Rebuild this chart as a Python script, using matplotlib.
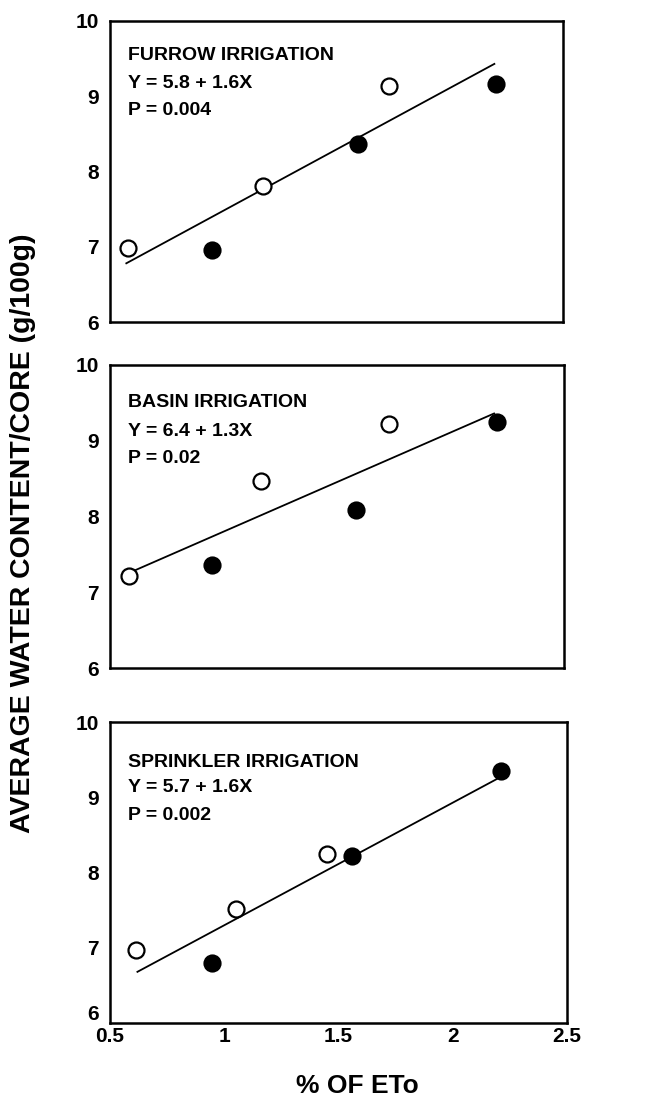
import matplotlib
matplotlib.use("Agg")
import matplotlib.pyplot as plt

plt.rcParams['font.family'] = ['Liberation Sans', 'DejaVu Sans']
plt.rcParams['font.weight'] = 'bold'

# ---- data ----
panel_titles = ["FURROW IRRIGATION", "BASIN IRRIGATION", "SPRINKLER IRRIGATION"]
panel_eqs = ["Y = 5.8 + 1.6X", "Y = 6.4 + 1.3X", "Y = 5.7 + 1.6X"]
panel_ps = ["P = 0.004", "P = 0.02", "P = 0.002"]

furrow_open_x = [0.58, 1.177, 1.733]
furrow_open_y = [6.98, 7.81, 9.14]
furrow_fill_x = [0.952, 1.594, 2.204]
furrow_fill_y = [6.96, 8.37, 9.16]
furrow_fit_x = [0.572, 2.197]
furrow_fit_y = [6.78, 9.43]

basin_open_x = [0.583, 1.164, 1.73]
basin_open_y = [7.21, 8.47, 9.22]
basin_fill_x = [0.95, 1.584, 2.204]
basin_fill_y = [7.36, 8.09, 9.25]
basin_fit_x = [0.595, 2.192]
basin_fit_y = [7.27, 9.36]

sprink_open_x = [0.612, 1.05, 1.448]
sprink_open_y = [6.97, 7.52, 8.24]
sprink_fill_x = [0.948, 1.561, 2.21]
sprink_fill_y = [6.80, 8.22, 9.35]
sprink_fit_x = [0.62, 2.21]
sprink_fit_y = [6.68, 9.27]

x_ticks = [0.5, 1, 1.5, 2, 2.5]
x_ticklabels = ["0.5", "1", "1.5", "2", "2.5"]
y_ticks = [6, 7, 8, 9, 10]
y_ticklabels = ["6", "7", "8", "9", "10"]

x_label = "% OF ETo"
y_label = "AVERAGE WATER CONTENT/CORE (g/100g)"

panels = [
    (furrow_open_x, furrow_open_y, furrow_fill_x, furrow_fill_y, furrow_fit_x, furrow_fit_y),
    (basin_open_x, basin_open_y, basin_fill_x, basin_fill_y, basin_fit_x, basin_fit_y),
    (sprink_open_x, sprink_open_y, sprink_fill_x, sprink_fill_y, sprink_fit_x, sprink_fit_y),
]

W, H = 645, 1097
fig = plt.figure(figsize=(W / 100, H / 100), dpi=100)

# axes boxes in pixels: (left, top, right, bottom)
boxes = [(110, 21, 563, 322), (110, 365, 564, 668), (110, 722, 567, 1023)]
text_rows = [(0.887, 0.794, 0.704), (0.875, 0.779, 0.693), (0.867, 0.781, 0.688)]

for i, (box, data) in enumerate(zip(boxes, panels)):
    l, t, r, b = box
    ax = fig.add_axes([l / W, 1 - b / H, (r - l) / W, (b - t) / H])
    ox, oy, fx, fy, lx, ly = data
    ax.plot(lx, ly, color='black', lw=1.3, zorder=2)
    ax.plot(ox, oy, 'o', ms=11.5, mfc='white', mec='black', mew=1.6, ls='none', zorder=3)
    ax.plot(fx, fy, 'o', ms=11.5, mfc='black', mec='black', mew=1.6, ls='none', zorder=3)
    ax.set_xlim(0.5, 2.5)
    ax.set_ylim(6, 10)
    ax.set_yticks(y_ticks)
    ax.set_xticks(x_ticks)
    if i == 2:
        ax.set_xticklabels(x_ticklabels, fontsize=15, fontweight='bold')
        # lowest y label drawn slightly raised so it only touches the x labels
        ax.set_yticklabels([""] + y_ticklabels[1:], fontsize=15, fontweight='bold')
        ax.annotate(y_ticklabels[0], xy=(0, y_ticks[0]), xycoords=('axes fraction', 'data'),
                    xytext=(-8, 6), textcoords='offset points', ha='right', va='center',
                    fontsize=15, fontweight='bold', annotation_clip=False)
    else:
        ax.set_yticklabels(y_ticklabels, fontsize=15, fontweight='bold')
        ax.set_xticklabels([])
    ax.tick_params(axis='y', length=0, pad=8)
    ax.tick_params(axis='x', length=0, pad=3)
    for s in ax.spines.values():
        s.set_linewidth(1.8)
    rows = text_rows[i]
    for txt, yy in zip((panel_titles[i], panel_eqs[i], panel_ps[i]), rows):
        ax.text(0.04, yy, txt, transform=ax.transAxes, fontsize=14,
                va='center', ha='left', fontweight='bold')

fig.text(23 / W, 1 - 533 / H, y_label, rotation=90, ha='center', va='center',
         fontsize=20.5, fontweight='bold')
fig.text(357 / W, 1 - 1086 / H, x_label, ha='center', va='center',
         fontsize=19, fontweight='bold')

fig.savefig("out.png", dpi=100)
